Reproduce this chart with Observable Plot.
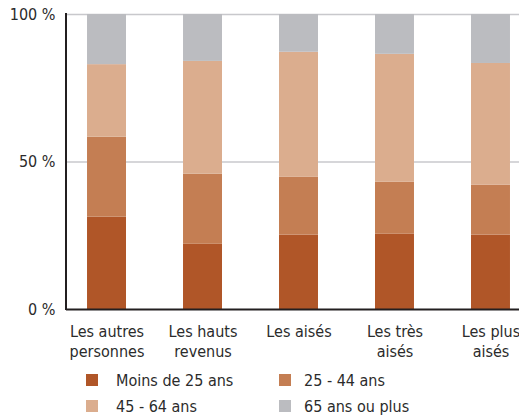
<!DOCTYPE html>
<html>
<head>
<meta charset="utf-8">
<script src="https://cdn.jsdelivr.net/npm/d3@7"></script>
<script src="https://cdn.jsdelivr.net/npm/@observablehq/plot@0.6"></script>
<style>
  html, body { margin: 0; padding: 0; background: #fff; overflow: hidden; }
  #chart { width: 519px; font-family: "DejaVu Sans Condensed", sans-serif; color: #2b2b2b; }
  .legend { display: grid; grid-template-columns: 193px 193px; margin-left: 86px; padding-top: 5px; font-size: 16px; color: #2b2b2b; }
  .legend .item { display: flex; align-items: center; height: 26px; }
  .legend .sw { width: 12px; height: 12px; flex: none; }
  .legend .item:nth-child(odd) .sw { margin-right: 18px; }
  .legend .item:nth-child(even) .sw { margin-right: 13px; }
</style>
</head>
<body>
<div id="chart"></div>
<script>
const categories = ["Les autres\npersonnes", "Les hauts\nrevenus", "Les aisés", "Les très\naisés", "Les plus\naisés"];
const ageGroups = ["Moins de 25 ans", "25 - 44 ans", "45 - 64 ans", "65 ans ou plus"];
const moins25 = [31.3, 22.1, 25.2, 25.5, 25.2];
const age25to44 = [27.1, 23.8, 19.6, 17.7, 16.9];
const age45to64 = [24.6, 38.2, 42.4, 43.3, 41.3];
const age65plus = [17.0, 15.9, 12.8, 13.5, 16.6];
const yTicks = [0, 50, 100];
const colors = ["#b05628", "#c47e53", "#dbad8e", "#bbbcc0"];

const series = [moins25, age25to44, age45to64, age65plus];
const data = [];
series.forEach((vals, si) => {
  vals.forEach((v, ci) => data.push({cat: categories[ci], group: ageGroups[si], value: v}));
});

const yAxisLine = (index, scales, values, dimensions) => {
  const g = d3.create("svg:g");
  g.append("line")
    .attr("x1", dimensions.marginLeft).attr("x2", dimensions.marginLeft)
    .attr("y1", dimensions.marginTop - 1).attr("y2", dimensions.height - dimensions.marginBottom + 1)
    .attr("stroke", "#231f20").attr("stroke-width", 2);
  return g.node();
};

const plot = Plot.plot({
  width: 519,
  height: 362,
  marginLeft: 66,
  marginRight: 0,
  marginTop: 14,
  marginBottom: 53,
  style: {fontFamily: "DejaVu Sans Condensed, sans-serif", fontSize: "16px", color: "#2b2b2b", background: "#fff"},
  x: {type: "band", domain: categories, range: [66, 531], paddingInner: 0.594, paddingOuter: 0.219, align: 0.5, round: false},
  y: {domain: [0, 100]},
  color: {domain: ageGroups, range: colors},
  marks: [
    Plot.ruleY([50, 100], {stroke: "#c8c8cc", strokeWidth: 1.5}),
    Plot.barY(data, {x: "cat", y: "value", z: "group", fill: "group", order: null}),
    Plot.ruleY([0], {stroke: "#231f20", strokeWidth: 2}),
    yAxisLine,
    Plot.axisY({ticks: yTicks, tickSize: 0, tickPadding: 11, tickFormat: d => d + " %", fontSize: 16, fill: "#2b2b2b", label: null}),
    Plot.axisX({tickSize: 0, tickPadding: 13, fontSize: 16, fill: "#2b2b2b", label: null, lineHeight: 1.25})
  ]
});

const chart = document.getElementById("chart");
chart.appendChild(plot);

const legend = document.createElement("div");
legend.className = "legend";
ageGroups.forEach((g, i) => {
  const item = document.createElement("div");
  item.className = "item";
  const sw = document.createElement("span");
  sw.className = "sw";
  sw.style.background = colors[i];
  const label = document.createElement("span");
  label.textContent = g;
  item.appendChild(sw);
  item.appendChild(label);
  legend.appendChild(item);
});
chart.appendChild(legend);
</script>
</body>
</html>
